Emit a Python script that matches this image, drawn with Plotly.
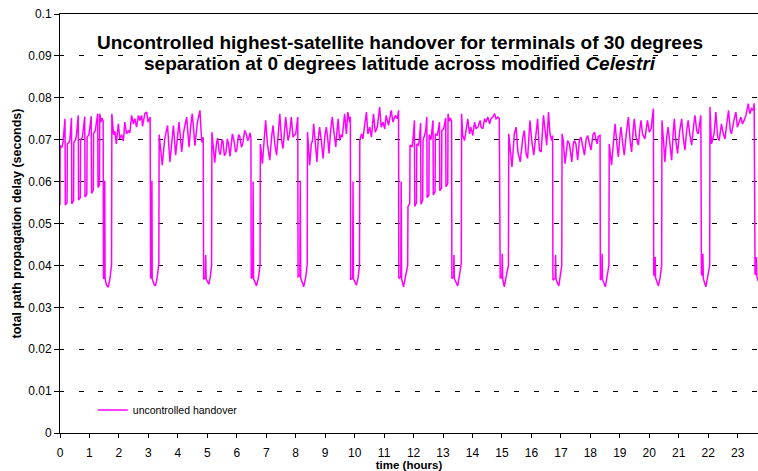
import plotly.graph_objects as go

# (hour, delay in seconds), one list per stretch between handover dips
seg01 = [(0.00, 0.0544), (0.005, 0.0686), (0.06, 0.0681), (0.10, 0.0692), (0.17, 0.0750), (0.18, 0.0544),
         (0.24, 0.0550), (0.25, 0.0690), (0.31, 0.0694), (0.34, 0.0704), (0.39, 0.0752), (0.40, 0.0547),
         (0.46, 0.0554), (0.47, 0.0694), (0.53, 0.0700), (0.56, 0.0712), (0.62, 0.0758), (0.63, 0.0556),
         (0.69, 0.0562), (0.70, 0.0700), (0.76, 0.0706), (0.79, 0.0720), (0.84, 0.0755), (0.85, 0.0563),
         (0.91, 0.0570), (0.92, 0.0706), (0.98, 0.0712), (1.01, 0.0728), (1.06, 0.0756), (1.07, 0.0572),
         (1.13, 0.0580), (1.14, 0.0715), (1.20, 0.0722), (1.23, 0.0738), (1.28, 0.0762), (1.29, 0.0586),
         (1.34, 0.0592), (1.35, 0.0762), (1.39, 0.0742), (1.43, 0.0752), (1.465, 0.0745),
         (1.475, 0.0368), (1.51, 0.0371), (1.52, 0.0602), (1.53, 0.0369), (1.58, 0.0353), (1.64, 0.0348),
         (1.70, 0.0370), (1.75, 0.0402)]
seg02 = [(1.76, 0.0762), (1.82, 0.0712), (1.864, 0.0720), (1.91, 0.0690), (1.98, 0.0738), (2.03, 0.0702),
         (2.09, 0.0712), (2.15, 0.0697), (2.20, 0.0742), (2.26, 0.0714), (2.32, 0.0722), (2.37, 0.0716),
         (2.43, 0.0758), (2.49, 0.0738), (2.54, 0.0750), (2.60, 0.0730), (2.66, 0.0758), (2.71, 0.0746),
         (2.77, 0.0758), (2.80, 0.0732), (2.88, 0.0762), (2.94, 0.0766), (2.99, 0.0742), (3.06, 0.0754),
         (3.075, 0.0369), (3.11, 0.0372), (3.12, 0.0602), (3.13, 0.0368), (3.19, 0.0355), (3.24, 0.0351),
         (3.30, 0.0372), (3.355, 0.0405)]
seg03 = [(3.365, 0.0712), (3.42, 0.0680), (3.47, 0.0639), (3.55, 0.0700), (3.59, 0.0712), (3.65, 0.0734),
         (3.73, 0.0647), (3.79, 0.0700), (3.85, 0.0734), (3.925, 0.0663), (3.98, 0.0710), (4.04, 0.0742),
         (4.13, 0.0671), (4.20, 0.0720), (4.30, 0.0754), (4.38, 0.0682), (4.44, 0.0735), (4.49, 0.0762),
         (4.58, 0.0686), (4.66, 0.0740), (4.75, 0.0770), (4.81, 0.0694), (4.86, 0.0706),
         (4.875, 0.0368), (4.93, 0.0370), (4.945, 0.0425), (4.96, 0.0368), (5.05, 0.0355), (5.10, 0.0372),
         (5.145, 0.0400)]
seg04 = [(5.155, 0.0718), (5.21, 0.0668), (5.25, 0.0645), (5.31, 0.0690), (5.35, 0.0704), (5.40, 0.0672),
         (5.44, 0.0664), (5.50, 0.0700), (5.53, 0.0697), (5.58, 0.0662), (5.63, 0.0668), (5.68, 0.0702),
         (5.72, 0.0690), (5.77, 0.0660), (5.80, 0.0676), (5.85, 0.0714), (5.90, 0.0700), (5.96, 0.0670),
         (6.00, 0.0676), (6.06, 0.0712), (6.10, 0.0708), (6.16, 0.0682), (6.20, 0.0690), (6.27, 0.0722),
         (6.31, 0.0716), (6.37, 0.0698), (6.40, 0.0700), (6.45, 0.0716), (6.48, 0.0705),
         (6.49, 0.0369), (6.54, 0.0372), (6.555, 0.0600), (6.57, 0.0368), (6.67, 0.0351), (6.74, 0.0372),
         (6.79, 0.0402)]
seg05 = [(6.80, 0.0690), (6.87, 0.0643), (6.93, 0.0700), (6.98, 0.0746), (7.04, 0.0690), (7.12, 0.0651),
         (7.18, 0.0705), (7.23, 0.0734), (7.29, 0.0690), (7.35, 0.0663), (7.41, 0.0715), (7.46, 0.0762),
         (7.52, 0.0698), (7.57, 0.0679), (7.62, 0.0720), (7.66, 0.0754), (7.74, 0.0698), (7.79, 0.0712),
         (7.85, 0.0754), (7.91, 0.0706), (7.96, 0.0712), (8.00, 0.0714), (8.07, 0.0754),
         (8.08, 0.0373), (8.14, 0.0375), (8.155, 0.0600), (8.17, 0.0370), (8.27, 0.0349), (8.34, 0.0372),
         (8.39, 0.0402)]
seg06 = [(8.40, 0.0718), (8.475, 0.0639), (8.53, 0.0690), (8.57, 0.0698), (8.61, 0.0738), (8.67, 0.0690),
         (8.72, 0.0647), (8.77, 0.0705), (8.81, 0.0730), (8.87, 0.0698), (8.93, 0.0655), (8.99, 0.0710),
         (9.04, 0.0730), (9.09, 0.0700), (9.13, 0.0667), (9.19, 0.0725), (9.24, 0.0754), (9.29, 0.0722),
         (9.36, 0.0683), (9.40, 0.0720), (9.44, 0.0750), (9.49, 0.0698), (9.54, 0.0712), (9.58, 0.0706),
         (9.66, 0.0762), (9.72, 0.0714), (9.77, 0.0766), (9.83, 0.0742), (9.855, 0.0755),
         (9.865, 0.0366), (9.93, 0.0370), (9.945, 0.0600), (9.96, 0.0368), (10.06, 0.0353), (10.12, 0.0372),
         (10.165, 0.0402)]
seg07 = [(10.175, 0.0698), (10.23, 0.0714), (10.28, 0.0702), (10.40, 0.0766), (10.45, 0.0714), (10.51, 0.0730),
         (10.57, 0.0706), (10.64, 0.0762), (10.70, 0.0718), (10.77, 0.0730), (10.85, 0.0778), (10.90, 0.0730),
         (10.96, 0.0742), (11.02, 0.0726), (11.07, 0.0758), (11.15, 0.0734), (11.24, 0.0770), (11.30, 0.0742),
         (11.38, 0.0758), (11.45, 0.0750), (11.49, 0.0770),
         (11.50, 0.0369), (11.565, 0.0372), (11.58, 0.0600), (11.595, 0.0368), (11.66, 0.0349), (11.74, 0.0375),
         (11.80, 0.0400)]
seg08 = [(11.81, 0.0540), (11.87, 0.0548), (11.88, 0.0687), (11.95, 0.0683), (11.98, 0.0700), (12.03, 0.0746),
         (12.04, 0.0541), (12.10, 0.0550), (12.11, 0.0690), (12.17, 0.0687), (12.20, 0.0704), (12.24, 0.0740),
         (12.25, 0.0546), (12.31, 0.0556), (12.32, 0.0698), (12.38, 0.0710), (12.41, 0.0720), (12.45, 0.0754),
         (12.46, 0.0562), (12.52, 0.0568), (12.53, 0.0712), (12.59, 0.0700), (12.62, 0.0718), (12.66, 0.0746),
         (12.67, 0.0568), (12.73, 0.0576), (12.74, 0.0714), (12.80, 0.0710), (12.84, 0.0724), (12.88, 0.0742),
         (12.89, 0.0578), (12.95, 0.0585), (12.96, 0.0722), (13.02, 0.0726), (13.05, 0.0736), (13.09, 0.0752),
         (13.10, 0.0588), (13.16, 0.0595), (13.17, 0.0762), (13.21, 0.0744), (13.25, 0.0752), (13.29, 0.0744),
         (13.30, 0.0369), (13.36, 0.0372), (13.37, 0.0425), (13.385, 0.0368), (13.50, 0.0351), (13.56, 0.0375),
         (13.62, 0.0405)]
seg09 = [(13.63, 0.0762), (13.67, 0.0710), (13.73, 0.0698), (13.78, 0.0718), (13.84, 0.0750), (13.90, 0.0714),
         (13.94, 0.0730), (14.01, 0.0710), (14.07, 0.0742), (14.12, 0.0726), (14.18, 0.0730), (14.26, 0.0746),
         (14.29, 0.0730), (14.35, 0.0726), (14.41, 0.0750), (14.46, 0.0742), (14.52, 0.0754), (14.58, 0.0738),
         (14.63, 0.0750), (14.69, 0.0754), (14.75, 0.0762), (14.80, 0.0750), (14.86, 0.0754), (14.91, 0.0750),
         (14.94, 0.0369), (14.995, 0.0372), (15.01, 0.0428), (15.025, 0.0368), (15.08, 0.0349), (15.14, 0.0372),
         (15.22, 0.0400)]
seg10 = [(15.23, 0.0714), (15.29, 0.0659), (15.34, 0.0635), (15.42, 0.0714), (15.48, 0.0730), (15.54, 0.0671),
         (15.62, 0.0647), (15.71, 0.0706), (15.76, 0.0722), (15.82, 0.0667), (15.87, 0.0655), (15.95, 0.0746),
         (16.01, 0.0698), (16.08, 0.0663), (16.16, 0.0722), (16.21, 0.0750), (16.27, 0.0675), (16.33, 0.0671),
         (16.41, 0.0758), (16.46, 0.0722), (16.52, 0.0687), (16.58, 0.0766), (16.63, 0.0714), (16.69, 0.0698),
         (16.72, 0.0710),
         (16.73, 0.0365), (16.81, 0.0370), (16.82, 0.0425), (16.835, 0.0366), (16.93, 0.0351), (16.98, 0.0375),
         (17.03, 0.0400)]
seg11 = [(17.04, 0.0714), (17.08, 0.0698), (17.14, 0.0643), (17.20, 0.0690), (17.23, 0.0698), (17.29, 0.0690),
         (17.37, 0.0647), (17.42, 0.0690), (17.46, 0.0698), (17.51, 0.0690), (17.57, 0.0651), (17.63, 0.0700),
         (17.68, 0.0706), (17.74, 0.0685), (17.80, 0.0663), (17.86, 0.0702), (17.91, 0.0710), (17.97, 0.0690),
         (18.02, 0.0675), (18.09, 0.0712), (18.14, 0.0718), (18.19, 0.0700), (18.23, 0.0690), (18.27, 0.0708),
         (18.33, 0.0710),
         (18.34, 0.0365), (18.39, 0.0370), (18.40, 0.0428), (18.415, 0.0366), (18.51, 0.0349), (18.57, 0.0375),
         (18.63, 0.0400)]
seg12 = [(18.64, 0.0690), (18.72, 0.0639), (18.79, 0.0700), (18.84, 0.0738), (18.90, 0.0690), (18.95, 0.0659),
         (19.00, 0.0705), (19.04, 0.0730), (19.10, 0.0690), (19.15, 0.0663), (19.22, 0.0715), (19.29, 0.0754),
         (19.35, 0.0698), (19.40, 0.0671), (19.45, 0.0720), (19.49, 0.0750), (19.55, 0.0706), (19.63, 0.0687),
         (19.68, 0.0725), (19.72, 0.0746), (19.77, 0.0714), (19.85, 0.0702), (19.94, 0.0746), (20.00, 0.0718),
         (20.06, 0.0726), (20.14, 0.0774),
         (20.15, 0.0378), (20.19, 0.0375), (20.20, 0.0420), (20.215, 0.0370), (20.31, 0.0351), (20.37, 0.0372),
         (20.42, 0.0400)]
seg13 = [(20.43, 0.0746), (20.49, 0.0690), (20.53, 0.0647), (20.59, 0.0705), (20.64, 0.0730), (20.70, 0.0690),
         (20.76, 0.0651), (20.81, 0.0715), (20.85, 0.0750), (20.90, 0.0698), (20.96, 0.0667), (21.03, 0.0720),
         (21.10, 0.0750), (21.15, 0.0706), (21.21, 0.0675), (21.27, 0.0722), (21.32, 0.0746), (21.38, 0.0710),
         (21.44, 0.0687), (21.50, 0.0730), (21.55, 0.0758), (21.61, 0.0722), (21.66, 0.0714), (21.75, 0.0758),
         (21.77, 0.0380), (21.81, 0.0375), (21.82, 0.0428), (21.835, 0.0368), (21.92, 0.0349), (21.98, 0.0372),
         (22.05, 0.0400)]
seg14 = [(22.06, 0.0778), (22.11, 0.0690), (22.17, 0.0706), (22.20, 0.0714), (22.26, 0.0766), (22.32, 0.0706),
         (22.37, 0.0698), (22.45, 0.0738), (22.51, 0.0714), (22.57, 0.0702), (22.63, 0.0738), (22.69, 0.0770),
         (22.75, 0.0722), (22.79, 0.0714), (22.86, 0.0742), (22.94, 0.0766), (22.99, 0.0730), (23.05, 0.0742),
         (23.11, 0.0754), (23.16, 0.0738), (23.22, 0.0746), (23.28, 0.0758), (23.36, 0.0786), (23.41, 0.0762),
         (23.47, 0.0774), (23.53, 0.0770), (23.56, 0.0787),
         (23.59, 0.0378), (23.625, 0.0380), (23.635, 0.0420), (23.65, 0.0375), (23.70, 0.0362)]

segments = [seg01, seg02, seg03, seg04, seg05, seg06, seg07,
            seg08, seg09, seg10, seg11, seg12, seg13, seg14]

hours = [p[0] for s in segments for p in s]
delay = [p[1] for s in segments for p in s]

title_lines = ["<b>Uncontrolled highest-satellite handover for terminals of 30 degrees</b>",
               "<b>separation at 0 degrees latitude across modified <i>Celestri</i></b>"]

FONT = "Arial, Liberation Sans, sans-serif"

trace = go.Scatter(
    x=hours,
    y=delay,
    mode='lines',
    name="uncontrolled handover",
    line=dict(color='#FF00FF', width=1.5),
)

fig = go.Figure(data=[trace])

fig.update_layout(
    width=758,
    height=471,
    margin=dict(l=60, r=0, t=14, b=38),
    paper_bgcolor='white',
    plot_bgcolor='white',
    font=dict(family=FONT, size=12, color='black'),
    showlegend=True,
    legend=dict(
        x=0.047, y=0.055, xanchor='left', yanchor='middle',
        bgcolor='rgba(0,0,0,0)', font=dict(size=10.5, family=FONT),
    ),
)

fig.update_xaxes(
    range=[0, 23.69],
    dtick=1, tick0=0,
    ticks='outside', ticklen=4, tickcolor='black',
    showline=True, linecolor='black', linewidth=1, mirror=True,
    showgrid=False, zeroline=False,
    automargin=False,
    ticklabelstandoff=5,
    tickfont=dict(size=12),
    title=dict(text="<b>time (hours)</b>", font=dict(size=11.5), standoff=0),
)

fig.update_yaxes(
    range=[0, 0.1],
    dtick=0.01, tick0=0,
    ticks='outside', ticklen=5, tickcolor='black',
    showline=True, linecolor='black', linewidth=1,
    showgrid=True, gridcolor='black', gridwidth=1,
    griddash='3.7px,14.8px,1.3px,0px',
    zeroline=False,
    automargin=False,
    tickfont=dict(size=12),
    title=dict(text="<b>total path propagation delay (seconds)</b>", font=dict(size=12.5), standoff=3),
)

for line, ypos in zip(title_lines, [0.933, 0.883]):
    fig.add_annotation(
        xref='paper', yref='paper', x=0.487, y=ypos,
        xanchor='center', yanchor='middle', showarrow=False,
        text=line,
        font=dict(size=19, family=FONT, color='black'),
    )

# the page's default body margin would push the fixed-size figure off the window
fig.write_html("out.html", config={'displayModeBar': False},
               post_script="document.body.style.margin='0px';")
